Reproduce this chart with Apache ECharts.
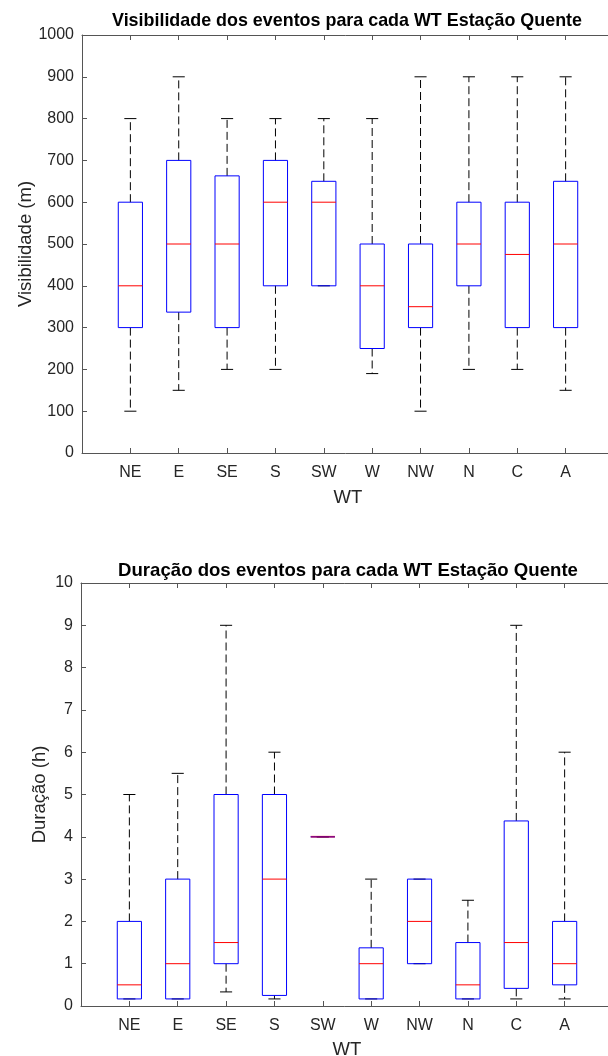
<!DOCTYPE html>
<html>
<head>
<meta charset="utf-8">
<script src="https://cdn.jsdelivr.net/npm/echarts@6/dist/echarts.min.js"></script>
<style>
  html, body { margin: 0; padding: 0; background: #fff; }
  #chart { width: 608px; height: 1056px; }
</style>
</head>
<body>
<div id="chart"></div>
<script>
// Weather types (WT) on the x axis
const categories = ['NE', 'E', 'SE', 'S', 'SW', 'W', 'NW', 'N', 'C', 'A'];

// Visibility (m): whisker ends, quartiles and median per weather type
const visMin = [100, 150, 200, 200, 400, 190, 100, 200, 200, 150];
const visQ1  = [300, 337, 300, 400, 400, 250, 300, 400, 300, 300];
const visMed = [400, 500, 500, 600, 600, 400, 350, 500, 475, 500];
const visQ3  = [600, 700, 663, 700, 650, 500, 500, 600, 600, 650];
const visMax = [800, 900, 800, 800, 800, 800, 900, 900, 900, 900];

// Duration (h): whisker ends, quartiles and median per weather type
const durMin = [0.167, 0.167, 0.333, 0.167, 4, 0.167, 1, 0.167, 0.167, 0.167];
const durQ1  = [0.167, 0.167, 1,     0.25,  4, 0.167, 1, 0.167, 0.417, 0.5];
const durMed = [0.5,   1,     1.5,   3,     4, 1,     2, 0.5,   1.5,   1];
const durQ3  = [2,     3,     5,     5,     4, 1.375, 3, 1.5,   4.375, 2];
const durMax = [5,     5.5,   9,     6,     4, 3,     3, 2.5,   9,     6];

// Axis tick values
const visTicks = { min: 0, max: 1000, interval: 100 };
const durTicks = { min: 0, max: 10, interval: 1 };

const FONT = 'Liberation Sans, Arial, Helvetica, sans-serif';
const AXIS_COLOR = '#555555';
const TEXT_COLOR = '#262626';

function boxRows(mins, q1s, meds, q3s, maxs) {
  return categories.map((c, i) => [i + 1, mins[i], q1s[i], meds[i], q3s[i], maxs[i]]);
}

// MATLAB-style box: dashed whiskers with caps, blue box, red median
function renderBox(params, api) {
  const x = api.value(0);
  const vMin = api.value(1), q1 = api.value(2), med = api.value(3), q3 = api.value(4), vMax = api.value(5);
  const unit = api.size([1, 0])[0];
  const half = unit * 0.25;
  const capHalf = unit * 0.125;
  const pMin = api.coord([x, vMin]);
  const pQ1 = api.coord([x, q1]);
  const pMed = api.coord([x, med]);
  const pQ3 = api.coord([x, q3]);
  const pMax = api.coord([x, vMax]);
  const cx = pMin[0];
  const dash = { stroke: '#000', lineWidth: 1, lineDash: [8, 4], fill: null };
  const solid = { stroke: '#000', lineWidth: 1, fill: null };
  const children = [];
  if (pMax[1] < pQ3[1]) {
    children.push({ type: 'line', shape: { x1: cx, y1: pQ3[1], x2: cx, y2: pMax[1] }, style: dash });
  }
  if (pMin[1] > pQ1[1]) {
    children.push({ type: 'line', shape: { x1: cx, y1: pQ1[1], x2: cx, y2: pMin[1] }, style: dash });
  }
  children.push({ type: 'line', shape: { x1: cx - capHalf, y1: pMax[1], x2: cx + capHalf, y2: pMax[1] }, style: solid });
  children.push({ type: 'line', shape: { x1: cx - capHalf, y1: pMin[1], x2: cx + capHalf, y2: pMin[1] }, style: solid });
  children.push({
    type: 'rect',
    shape: { x: cx - half, y: pQ3[1], width: half * 2, height: pQ1[1] - pQ3[1] },
    style: { stroke: '#0000ff', lineWidth: 1, fill: null }
  });
  const flat = q1 === q3;
  children.push({
    type: 'line',
    shape: { x1: cx - half, y1: pMed[1], x2: cx + half, y2: pMed[1] },
    style: { stroke: '#ff0000', lineWidth: flat ? 2 : 1, opacity: flat ? 0.5 : 1 }
  });
  return { type: 'group', children };
}

function xAxes(gridIndex, gap) {
  const base = {
    type: 'value', gridIndex, min: 0, max: 11, interval: 1,
    splitLine: { show: false },
    axisLine: { show: true, lineStyle: { color: AXIS_COLOR, width: 1 } },
    axisTick: { show: true, inside: true, length: 5, lineStyle: { color: AXIS_COLOR } }
  };
  return [
    Object.assign({}, base, {
      position: 'bottom',
      axisLabel: {
        margin: 12, fontSize: 16, fontFamily: FONT, color: TEXT_COLOR,
        formatter: v => (v >= 1 && v <= categories.length) ? categories[v - 1] : ''
      },
      name: 'WT', nameLocation: 'middle', nameGap: gap,
      nameTextStyle: { fontSize: 18.5, fontFamily: FONT, color: TEXT_COLOR }
    }),
    Object.assign({}, base, { position: 'top', axisLabel: { show: false } })
  ];
}

function yAxis(gridIndex, ticks, name, gap) {
  return {
    type: 'value', gridIndex, min: ticks.min, max: ticks.max, interval: ticks.interval,
    splitLine: { show: false },
    axisLine: { show: true, lineStyle: { color: AXIS_COLOR, width: 1 } },
    axisTick: { show: true, inside: true, length: 5, lineStyle: { color: AXIS_COLOR } },
    axisLabel: { margin: 8, fontSize: 16, fontFamily: FONT, color: TEXT_COLOR, formatter: v => String(v) },
    name, nameLocation: 'middle', nameGap: gap, nameMoveOverlap: false,
    nameTextStyle: { fontSize: 18.5, fontFamily: FONT, color: TEXT_COLOR }
  };
}

const chart = echarts.init(document.getElementById('chart'), null, { renderer: 'canvas' });
chart.setOption({
  backgroundColor: '#ffffff',
  animation: false,
  title: [
    {
      text: 'Visibilidade dos eventos para cada WT Estação Quente',
      left: 342, top: 7, textAlign: 'center',
      textStyle: { fontSize: 17.9, fontWeight: 'bold', fontFamily: FONT, color: '#000' }
    },
    {
      text: 'Duração dos eventos para cada WT Estação Quente',
      left: 343, top: 556, textAlign: 'center',
      textStyle: { fontSize: 18.6, fontWeight: 'bold', fontFamily: FONT, color: '#000' }
    }
  ],
  grid: [
    { left: 82, top: 35, width: 532, height: 418, outerBoundsMode: 'none', containLabel: false },
    { left: 81, top: 583, width: 532, height: 423, outerBoundsMode: 'none', containLabel: false }
  ],
  xAxis: [...xAxes(0, 35), ...xAxes(1, 34)],
  yAxis: [
    yAxis(0, visTicks, 'Visibilidade (m)', 47),
    yAxis(1, durTicks, 'Duração (h)', 32)
  ],
  series: [
    {
      type: 'custom', xAxisIndex: 0, yAxisIndex: 0,
      renderItem: renderBox,
      data: boxRows(visMin, visQ1, visMed, visQ3, visMax)
    },
    {
      type: 'custom', xAxisIndex: 2, yAxisIndex: 1,
      renderItem: renderBox,
      data: boxRows(durMin, durQ1, durMed, durQ3, durMax)
    }
  ]
});
</script>
</body>
</html>
